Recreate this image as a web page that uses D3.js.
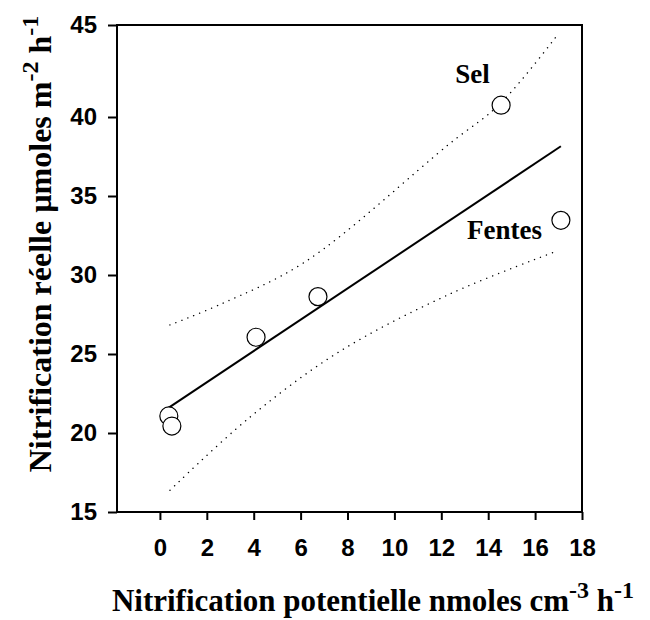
<!DOCTYPE html>
<html>
<head>
<meta charset="utf-8">
<script src="https://cdn.jsdelivr.net/npm/d3@7"></script>
<style>
  body { margin: 0; background: #fff; }
  .tick text { font-family: "Liberation Sans", Arial, sans-serif; font-weight: bold; font-size: 24px; fill: #000; }
  .title { font-family: "Liberation Serif", "Times New Roman", serif; font-weight: bold; fill: #000; }
</style>
</head>
<body>
<svg width="650" height="620"></svg>
<script>
// observed points
var potX = [0.38, 0.51, 4.1, 6.74, 14.55, 17.1];
var reelY = [21.08, 20.44, 26.06, 28.63, 40.64, 33.46];

// dotted confidence band
var upperX = [0.43, 2.56, 6.19, 12.37, 14.5, 17.02];
var upperY = [26.84, 28.13, 30.83, 38.33, 40.71, 44.57];
var lowerX = [0.43, 3.75, 7.6, 12.37, 16.98];
var lowerY = [16.38, 20.89, 25.1, 28.8, 31.54];

var xTicks = [0, 2, 4, 6, 8, 10, 12, 14, 16, 18];
var yTicks = [15, 20, 25, 30, 35, 40, 45];

var labels = ['Sel', 'Fentes'];
var labelX = [12.59, 13.1];
var labelY = [41.85, 32.28];

var svg = d3.select('svg');
var mLeft = 117, mRight = 582, mTop = 25, mBottom = 512;

var x = d3.scaleLinear().domain([-1.83, 18]).range([mLeft, mRight]);
// the printed axis is slightly stretched above 40
var y = d3.scaleLinear().domain([15, 40, 45]).range([mBottom, 117, mTop]);

// frame
svg.append('rect')
    .attr('x', mLeft).attr('y', mTop)
    .attr('width', mRight - mLeft).attr('height', mBottom - mTop)
    .attr('fill', 'none').attr('stroke', '#000').attr('stroke-width', 2);

var xAxis = svg.append('g')
    .attr('transform', 'translate(0,' + mBottom + ')')
    .call(d3.axisBottom(x).tickValues(xTicks).tickSize(8).tickPadding(19));
var yAxis = svg.append('g')
    .attr('transform', 'translate(' + mLeft + ',0)')
    .call(d3.axisLeft(y).tickValues(yTicks).tickSize(9).tickPadding(11));
[xAxis, yAxis].forEach(function (a) {
    a.select('.domain').remove();
    a.selectAll('.tick line').attr('stroke', '#000').attr('stroke-width', 2);
});

// least squares line through the points
var mx = d3.mean(potX), my = d3.mean(reelY);
var sxy = d3.sum(potX, function (v, i) { return (v - mx) * (reelY[i] - my); });
var sxx = d3.sum(potX, function (v) { return (v - mx) * (v - mx); });
var slope = sxy / sxx, icpt = my - slope * mx;
var fitX = d3.extent(potX);

svg.append('line')
    .attr('x1', x(fitX[0])).attr('y1', y(icpt + slope * fitX[0]))
    .attr('x2', x(fitX[1])).attr('y2', y(icpt + slope * fitX[1]))
    .attr('stroke', '#000').attr('stroke-width', 2);

var band = d3.line()
    .x(function (d) { return x(d[0]); })
    .y(function (d) { return y(d[1]); })
    .curve(d3.curveCatmullRom);

[[upperX, upperY], [lowerX, lowerY]].forEach(function (b) {
    svg.append('path')
        .attr('d', band(d3.zip(b[0], b[1])))
        .attr('fill', 'none').attr('stroke', '#000')
        .attr('stroke-width', 1.4)
        .attr('stroke-linecap', 'round')
        .attr('stroke-dasharray', '0.1 6.3');
});

svg.selectAll('circle.pt').data(d3.zip(potX, reelY)).enter().append('circle')
    .attr('class', 'pt')
    .attr('cx', function (d) { return x(d[0]); })
    .attr('cy', function (d) { return y(d[1]); })
    .attr('r', 9)
    .attr('fill', '#fff').attr('stroke', '#000').attr('stroke-width', 1.2);

svg.selectAll('text.lab').data(labels).enter().append('text')
    .attr('class', 'title lab')
    .attr('x', function (d, i) { return x(labelX[i]); })
    .attr('y', function (d, i) { return y(labelY[i]); })
    .style('font-size', '27px')
    .text(function (d) { return d; });

// axis titles with superscripts
function title(g, main, sup1, mid, sup2) {
    g.append('tspan').text(main);
    g.append('tspan').attr('dy', -13).style('font-size', '24px').text(sup1);
    g.append('tspan').attr('dy', 13).text(mid);
    g.append('tspan').attr('dy', -13).style('font-size', '24px').text(sup2);
}

var xt = svg.append('text').attr('class', 'title')
    .attr('x', 373).attr('y', 611)
    .attr('text-anchor', 'middle')
    .style('font-size', '31px');
title(xt, 'Nitrification potentielle nmoles cm', '-3', ' h', '-1');

var yt = svg.append('text').attr('class', 'title')
    .attr('transform', 'translate(51,244) rotate(-90)')
    .attr('text-anchor', 'middle')
    .style('font-size', '32px');
title(yt, 'Nitrification réelle µmoles m', '-2', ' h', '-1');
</script>
</body>
</html>
